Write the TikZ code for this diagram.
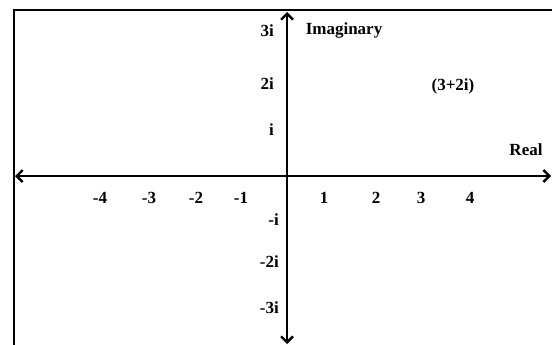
\documentclass[tikz,border=0pt]{standalone}
\usepackage{fontspec}
\setmainfont{Liberation Serif}
\usetikzlibrary{arrows.meta}
\tikzset{
  lbl/.style={font=\fontsize{17}{19}\selectfont\bfseries, inner sep=0pt},
  axis/.style={line width=2.2pt, {Straight Barb[length=6pt,width=12pt,line width=2.4pt]}-{Straight Barb[length=6pt,width=12pt,line width=2.4pt]}},
  frame/.style={line width=2.6pt}
}
\begin{document}
\begin{tikzpicture}[x=1pt,y=-1pt]
\useasboundingbox (0,0) rectangle (552,345);
% frame
\coordinate (fbl) at (14,345);
\coordinate (ftl) at (14,10);
\coordinate (ftr) at (552,10);
\draw[frame] (fbl) -- (ftl) -- (ftr);
% axes
\coordinate (xl) at (15,176);
\coordinate (xr) at (551,176);
\coordinate (yt) at (287,12);
\coordinate (yb) at (287,344);
\draw[axis] (xl) -- (xr);
\draw[axis] (yb) -- (yt);
% labels
\node[lbl] (im) at (344,30) {Imaginary};
\node[lbl] (pt) at (453,86) {(3+2i)};
\node[lbl] (re) at (526,150) {Real};
\node[lbl,anchor=east] (y3) at (274,31) {3i};
\node[lbl,anchor=east] (y2) at (274,84) {2i};
\node[lbl,anchor=east] (y1) at (274,130) {i};
\node[lbl,anchor=east] (ym1) at (279,220) {-i};
\node[lbl,anchor=east] (ym2) at (279,262) {-2i};
\node[lbl,anchor=east] (ym3) at (279,308) {-3i};
\node[lbl] (xm4) at (100,198) {-4};
\node[lbl] (xm3) at (149,198) {-3};
\node[lbl] (xm2) at (196,198) {-2};
\node[lbl] (xm1) at (241,198) {-1};
\node[lbl] (x1) at (324,198) {1};
\node[lbl] (x2) at (376,198) {2};
\node[lbl] (x3) at (421,198) {3};
\node[lbl] (x4) at (470,198) {4};
\end{tikzpicture}
\end{document}
